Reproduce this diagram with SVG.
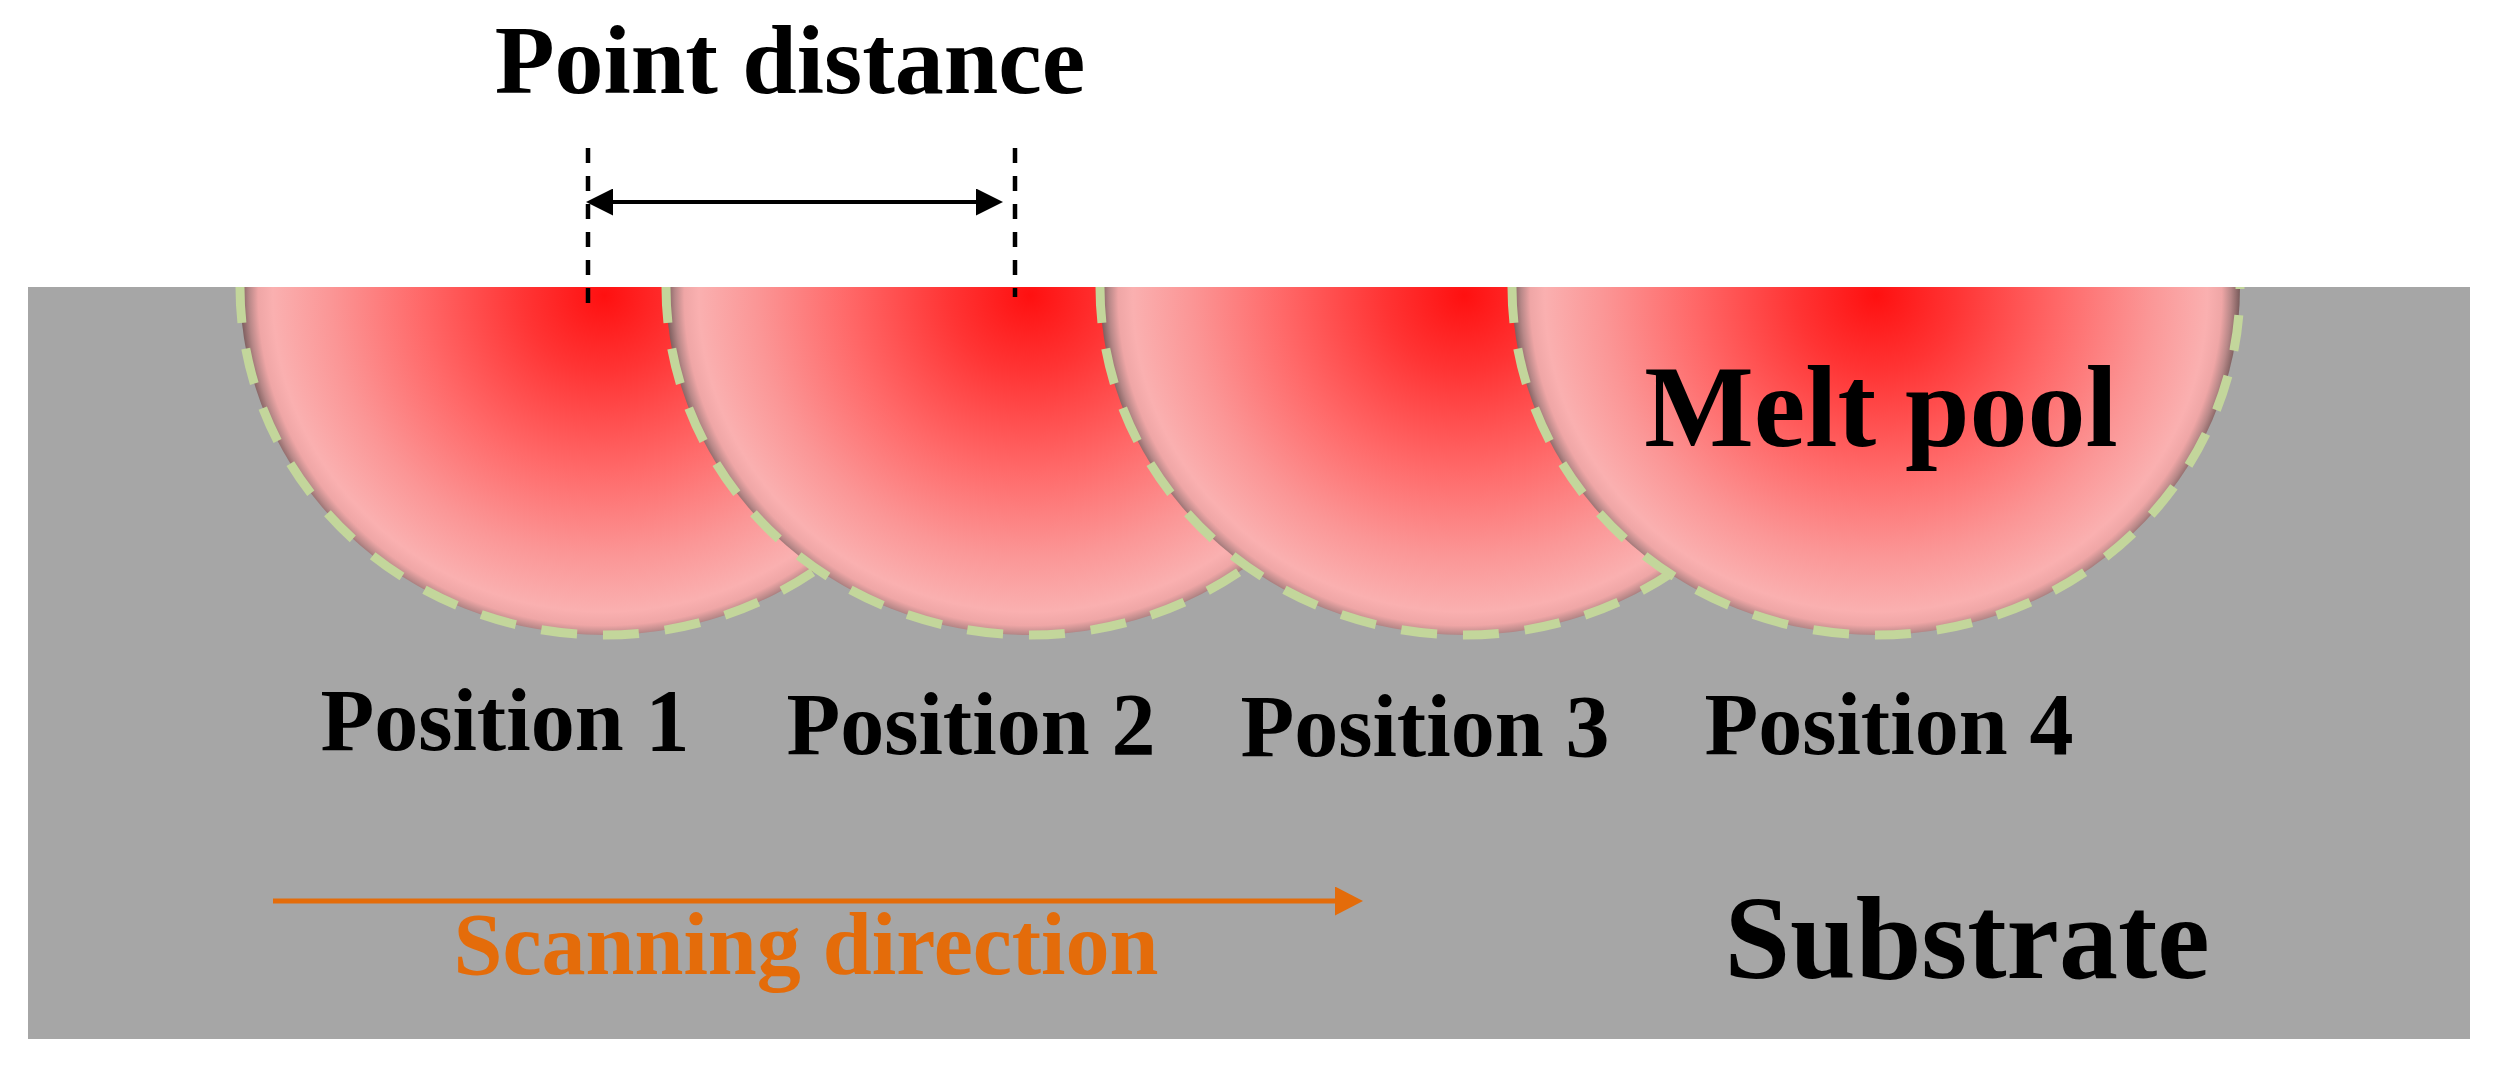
<svg xmlns="http://www.w3.org/2000/svg" width="2496" height="1068" viewBox="0 0 2496 1068">
  <defs>
    <radialGradient id="poolGrad" gradientUnits="userSpaceOnUse" cx="0" cy="0" r="364" gradientTransform="translate(0,8) scale(1,0.956)">
      <stop offset="0" stop-color="#FF1010"/>
      <stop offset="0.22" stop-color="#FF3434"/>
      <stop offset="0.5" stop-color="#FF6868"/>
      <stop offset="0.75" stop-color="#FB9696"/>
      <stop offset="0.91" stop-color="#FAB0B0"/>
      <stop offset="0.95" stop-color="#EFA6A6"/>
      <stop offset="0.975" stop-color="#B88888"/>
      <stop offset="1" stop-color="#775A5A"/>
    </radialGradient>
    <marker id="ahBlack" markerUnits="userSpaceOnUse" viewBox="0 0 27 27" refX="0" refY="13.5" markerWidth="27" markerHeight="27" orient="auto-start-reverse">
      <path d="M0,0 L27,13.5 L0,27 Z" fill="#000000"/>
    </marker>
    <marker id="ahOrange" markerUnits="userSpaceOnUse" viewBox="0 0 28 29" refX="0" refY="14.5" markerWidth="28" markerHeight="29" orient="auto">
      <path d="M0,0 L28,14.5 L0,29 Z" fill="#E46C0A"/>
    </marker>
    <path id="poolFill" d="M-364,0 A364 348 0 0 0 364,0 Z"/>
    <path id="poolEdge" d="M-364,0 A364 348 0 0 0 364,0"/>
  </defs>
  <style>
    .lbl { font-family: "Liberation Serif", "Times New Roman", serif; font-weight: bold; text-anchor: middle; fill: #000000; }
    .pool-fill { fill: url(#poolGrad); }
    .pool-edge { fill: none; stroke: #C3D69B; stroke-width: 9; stroke-dasharray: 36 26; }
    .dim { stroke: #000000; stroke-width: 4.5; stroke-dasharray: 15 13; fill: none; }
  </style>

  <rect x="0" y="0" width="2496" height="1068" fill="#FFFFFF"/>

  <g id="substrate">
    <rect x="28" y="287" width="2442" height="752" fill="#A6A6A6"/>
    <text class="lbl" x="1967" y="978" font-size="118">Substrate</text>
  </g>

  <g id="pool1" transform="translate(604,287)">
    <use href="#poolFill" class="pool-fill"/>
    <use href="#poolEdge" class="pool-edge"/>
  </g>
  <g id="pool2" transform="translate(1030,287)">
    <use href="#poolFill" class="pool-fill"/>
    <use href="#poolEdge" class="pool-edge"/>
  </g>
  <g id="pool3" transform="translate(1464,287)">
    <use href="#poolFill" class="pool-fill"/>
    <use href="#poolEdge" class="pool-edge"/>
  </g>
  <g id="pool4" transform="translate(1876,287)">
    <use href="#poolFill" class="pool-fill"/>
    <use href="#poolEdge" class="pool-edge"/>
    <text class="lbl" x="5" y="159" font-size="116">Melt pool</text>
  </g>

  <g id="labels">
    <text id="position1" class="lbl" x="505" y="750" font-size="88">Position 1</text>
    <text id="position2" class="lbl" x="971" y="754" font-size="88">Position 2</text>
    <text id="position3" class="lbl" x="1425" y="756" font-size="88">Position 3</text>
    <text id="position4" class="lbl" x="1889" y="754" font-size="88">Position 4</text>
  </g>

  <g id="point-distance">
    <line class="dim" x1="588" y1="148" x2="588" y2="308"/>
    <line class="dim" x1="1015" y1="148" x2="1015" y2="297"/>
    <text class="lbl" x="790" y="93" font-size="98">Point distance</text>
  </g>

  <g id="scanning-direction">
    <text class="lbl" x="806" y="974" font-size="88" style="fill:#E46C0A">Scanning direction</text>
  </g>

  <g id="connectors">
    <line x1="613" y1="202" x2="976" y2="202" stroke="#000000" stroke-width="4" marker-start="url(#ahBlack)" marker-end="url(#ahBlack)"/>
    <line x1="273" y1="901" x2="1335" y2="901" stroke="#E46C0A" stroke-width="5" marker-end="url(#ahOrange)"/>
  </g>
</svg>
